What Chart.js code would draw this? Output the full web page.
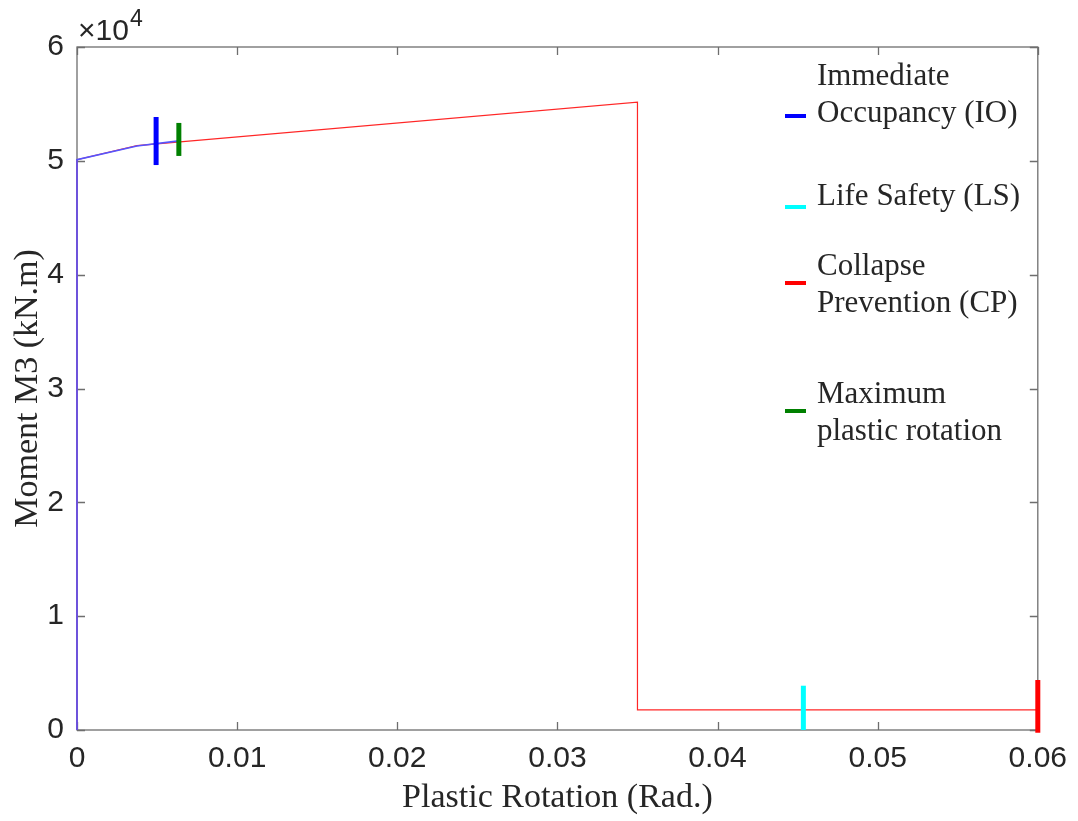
<!DOCTYPE html>
<html>
<head>
<meta charset="utf-8">
<title>Moment M3 vs Plastic Rotation</title>
<script src="https://cdn.jsdelivr.net/npm/chart.js@4.4.1/dist/chart.umd.min.js"></script>
<style>
  html, body { margin: 0; padding: 0; background: #ffffff; }
  #wrap { width: 1078px; height: 821px; }
</style>
</head>
<body>
<div id="wrap"><canvas id="hinge" width="1078" height="821"></canvas></div>
<script>
// Hinge backbone curve: plastic rotation (rad) and moment M3 (kN.m)
const backboneRotation = [0, 0, 0.00374, 0.035, 0.035, 0.06];
const backboneMoment   = [0, 50100, 51340, 55160, 1760, 1760];

// Portion of the curve reached by the analysis
const reachedRotation = [0, 0, 0.00374, 0.00636];
const reachedMoment   = [0, 50100, 51300, 51750];

// Acceptance-criteria markers (vertical bars)
const ioRotation  = [0.00494, 0.00494];
const ioMoment    = [49630, 53850];
const lsRotation  = [0.04536, 0.04536];
const lsMoment    = [0, 3890];
const cpRotation  = [0.06, 0.06];
const cpMoment    = [-240, 4390];
const maxRotation = [0.00636, 0.00636];
const maxMoment   = [50430, 53330];

// Tick labels
const xTickValues = [0, 0.01, 0.02, 0.03, 0.04, 0.05, 0.06];
const xTickLabels = ['0', '0.01', '0.02', '0.03', '0.04', '0.05', '0.06'];
const yTickValues = [0, 10000, 20000, 30000, 40000, 50000, 60000];
const yTickLabels = ['0', '1', '2', '3', '4', '5', '6'];

// Legend entries (multi-line labels)
const legendLabels = [
  ['Immediate', 'Occupancy (IO)'],
  ['Life Safety (LS)'],
  ['Collapse', 'Prevention (CP)'],
  ['Maximum', 'plastic rotation']
];

const pts = (xs, ys) => xs.map((x, i) => ({ x: x, y: ys[i] }));

const TEXT = '#262626';
const AXIS = '#6e6e6e';
const SANS = '"Liberation Sans", Arial, sans-serif';
const SERIF = '"Liberation Serif", "Times New Roman", serif';

// Box frame with inward ticks on all four sides, plus the exponent label
const framePlugin = {
  id: 'frame',
  beforeDatasetsDraw(chart) {
    const { ctx, chartArea: a, scales } = chart;
    const xs = scales.x, ys = scales.y;
    const tl = 8;
    ctx.save();
    ctx.strokeStyle = AXIS;
    ctx.lineWidth = 1.3;
    ctx.strokeRect(a.left, a.top, a.right - a.left, a.bottom - a.top);
    ctx.beginPath();
    xTickValues.forEach(v => {
      const px = Math.round(xs.getPixelForValue(v)) + 0.5;
      ctx.moveTo(px, a.bottom); ctx.lineTo(px, a.bottom - tl);
      ctx.moveTo(px, a.top);    ctx.lineTo(px, a.top + tl);
    });
    yTickValues.forEach(v => {
      const py = Math.round(ys.getPixelForValue(v)) + 0.5;
      ctx.moveTo(a.left, py);  ctx.lineTo(a.left + tl, py);
      ctx.moveTo(a.right, py); ctx.lineTo(a.right - tl, py);
    });
    ctx.stroke();

    // ×10^4 multiplier
    ctx.fillStyle = TEXT;
    ctx.textBaseline = 'alphabetic';
    ctx.textAlign = 'left';
    ctx.font = '30px ' + SANS;
    const base = '\u00d710';
    ctx.fillText(base, a.left + 1, a.top - 7);
    const w = ctx.measureText(base).width;
    ctx.font = '23px ' + SANS;
    ctx.fillText('4', a.left + 2 + w, a.top - 21);
    ctx.restore();
  }
};

// Legend drawn inside the plot area, one entry per marker dataset
const legendPlugin = {
  id: 'sideLegend',
  afterDraw(chart, args, opts) {
    const { ctx } = chart;
    ctx.save();
    ctx.font = opts.fontSize + 'px ' + SERIF;
    ctx.fillStyle = TEXT;
    ctx.textAlign = 'left';
    ctx.textBaseline = 'alphabetic';
    opts.entries.forEach((e, i) => {
      const ds = chart.data.datasets[e.dataset];
      ctx.strokeStyle = ds.borderColor;
      ctx.lineWidth = 4;
      ctx.beginPath();
      ctx.moveTo(opts.sampleX0, e.sampleY);
      ctx.lineTo(opts.sampleX1, e.sampleY);
      ctx.stroke();
      legendLabels[i].forEach((line, j) => {
        ctx.fillText(line, opts.textX, e.baseY + j * opts.lineGap);
      });
    });
    ctx.restore();
  }
};

const markerStyle = (color, width) => ({
  showLine: true, borderColor: color, backgroundColor: color,
  borderWidth: width, pointRadius: 0, borderCapStyle: 'butt', clip: false, order: 0
});

new Chart(document.getElementById('hinge'), {
  type: 'scatter',
  data: {
    datasets: [
      Object.assign({ label: 'Backbone', data: pts(backboneRotation, backboneMoment) },
        { showLine: true, borderColor: 'rgba(255,0,0,0.85)', borderWidth: 1.2, pointRadius: 0, tension: 0, clip: false, order: 2 }),
      Object.assign({ label: 'Reached', data: pts(reachedRotation, reachedMoment) },
        { showLine: true, borderColor: 'rgb(85,85,255)', borderWidth: 1.6, pointRadius: 0, tension: 0, clip: false, order: 1 }),
      Object.assign({ label: 'Immediate Occupancy (IO)', data: pts(ioRotation, ioMoment) }, markerStyle('#0000ff', 5)),
      Object.assign({ label: 'Life Safety (LS)', data: pts(lsRotation, lsMoment) }, markerStyle('#00ffff', 5)),
      Object.assign({ label: 'Collapse Prevention (CP)', data: pts(cpRotation, cpMoment) }, markerStyle('#ff0000', 5)),
      Object.assign({ label: 'Maximum plastic rotation', data: pts(maxRotation, maxMoment) }, markerStyle('#008000', 5))
    ]
  },
  options: {
    responsive: false,
    animation: false,
    devicePixelRatio: 1,
    layout: { padding: { top: 47, right: 37, left: 0, bottom: 0 } },
    plugins: {
      legend: { display: false },
      tooltip: { enabled: false },
      sideLegend: {
        fontSize: 31,
        textX: 817,
        sampleX0: 785,
        sampleX1: 806,
        lineGap: 36.5,
        entries: [
          { dataset: 2, sampleY: 116, baseY: 85 },
          { dataset: 3, sampleY: 207, baseY: 205 },
          { dataset: 4, sampleY: 283, baseY: 275 },
          { dataset: 5, sampleY: 411, baseY: 403 }
        ]
      }
    },
    scales: {
      x: {
        type: 'linear', min: 0, max: 0.06,
        afterBuildTicks(s) { s.ticks = xTickValues.map(v => ({ value: v })); },
        afterFit(s) { s.height = 91; },
        grid: { display: false, drawTicks: false },
        border: { display: false },
        ticks: {
          padding: 11, color: TEXT, font: { family: SANS, size: 30 },
          maxRotation: 0, autoSkip: false,
          callback(v, i) { return xTickLabels[i]; }
        },
        title: {
          display: true, text: 'Plastic Rotation (Rad.)', color: TEXT,
          font: { family: SERIF, size: 34 }, padding: { top: 0, bottom: 3 }
        }
      },
      y: {
        type: 'linear', min: 0, max: 60000,
        afterBuildTicks(s) { s.ticks = yTickValues.map(v => ({ value: v })); },
        afterFit(s) { s.width = 77; },
        grid: { display: false, drawTicks: false },
        border: { display: false },
        ticks: {
          padding: 13, color: TEXT, font: { family: SANS, size: 30 },
          autoSkip: false,
          callback(v, i) { return yTickLabels[i]; }
        },
        title: {
          display: true, text: 'Moment M3 (kN.m)', color: TEXT,
          font: { family: SERIF, size: 34 }, padding: { top: 8, bottom: 0 }
        }
      }
    }
  },
  plugins: [framePlugin, legendPlugin]
});
</script>
</body>
</html>
